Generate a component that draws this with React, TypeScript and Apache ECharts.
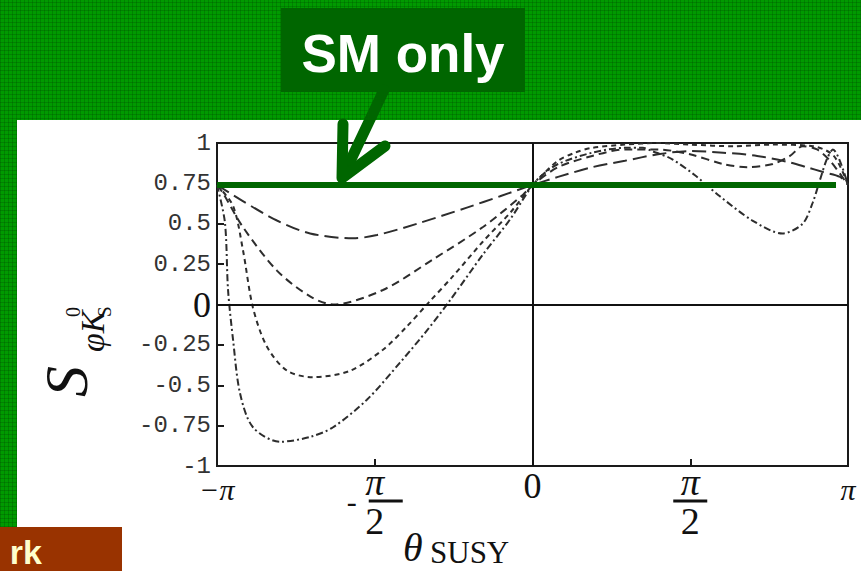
import React, { useEffect, useRef } from 'react';
import * as echarts from 'echarts';

// θ_SUSY is stored in units of π; second value is S(φK⁰_S)
const curveLongDash: [number, number][] = [
  [-1, 0.74], [-0.918, 0.64], [-0.81, 0.52], [-0.705, 0.44], [-0.569, 0.41], [-0.493, 0.43],
  [-0.366, 0.5], [-0.208, 0.6], [-0.103, 0.67], [0, 0.74],
  [0.081, 0.79], [0.189, 0.85], [0.293, 0.89], [0.398, 0.93], [0.499, 0.95], [0.604, 0.94],
  [0.712, 0.92], [0.816, 0.88], [0.87, 0.85], [0.921, 0.82], [0.975, 0.79], [1, 0.74],
];
const curveDash: [number, number][] = [
  [-1, 0.74], [-0.981, 0.69], [-0.918, 0.48], [-0.81, 0.21], [-0.705, 0.05], [-0.632, 0.0],
  [-0.474, 0.09], [-0.315, 0.28], [-0.157, 0.48], [-0.03, 0.68], [0, 0.74],
  [0.081, 0.85], [0.189, 0.92], [0.293, 0.96], [0.398, 0.96], [0.499, 0.93], [0.604, 0.87],
  [0.68, 0.85], [0.762, 0.87], [0.816, 0.92], [0.857, 0.98], [0.902, 0.96], [0.943, 0.89], [1, 0.74],
];
const curveShortDash: [number, number][] = [
  [-1, 0.74], [-0.949, 0.61], [-0.918, 0.34], [-0.886, -0.02], [-0.842, -0.26], [-0.778, -0.41],
  [-0.696, -0.45], [-0.578, -0.41], [-0.474, -0.28], [-0.4, -0.14], [-0.33, 0.01], [-0.25, 0.18],
  [-0.157, 0.39], [-0.07, 0.57], [0, 0.74],
  [0.03, 0.8], [0.081, 0.89], [0.135, 0.94], [0.189, 0.97], [0.293, 0.99], [0.398, 1.0], [0.5, 0.99],
  [0.64, 0.98], [0.76, 0.99], [0.89, 0.98], [0.955, 0.92], [1, 0.74],
];
const curveDashDot: [number, number][] = [
  [-1, 0.74], [-0.975, 0.51], [-0.965, 0.09], [-0.949, -0.22], [-0.927, -0.55], [-0.886, -0.76],
  [-0.8, -0.85], [-0.705, -0.82], [-0.632, -0.76], [-0.525, -0.59], [-0.42, -0.36], [-0.33, -0.15],
  [-0.26, 0.03], [-0.157, 0.31], [-0.07, 0.53], [0, 0.74],
  [0.03, 0.8], [0.081, 0.87], [0.189, 0.94], [0.293, 0.97], [0.35, 0.97], [0.379, 0.95], [0.442, 0.9],
  [0.515, 0.8], [0.594, 0.67], [0.697, 0.52], [0.792, 0.44], [0.856, 0.5], [0.888, 0.63], [0.911, 0.77],
  [0.933, 0.9], [0.952, 0.96], [1, 0.74],
];
// Standard Model expectation
const smLine: [number, number][] = [[-1, 0.74], [0.962, 0.74]];

const yTickLabels = ['-1', '-0.75', '-0.5', '-0.25', '0', '0.25', '0.5', '0.75', '1'];
const xTickLabels = ['−π', '−π/2', '0', 'π/2', 'π'];

const CURVE_COLOR = '#2d2d2d';
const SM_GREEN = '#006600';
const FRAME = '#1a1a1a';

function curve(data: [number, number][], dash: number[]) {
  return {
    type: 'line',
    data,
    symbol: 'none',
    smooth: 0.3,
    silent: true,
    z: 3,
    lineStyle: { color: CURVE_COLOR, width: 2, type: dash },
  };
}

export default function App() {
  const ref = useRef<HTMLDivElement>(null);

  useEffect(() => {
    if (!ref.current) return;
    const chart = echarts.init(ref.current, null, { renderer: 'svg' });
    const serif = '"Liberation Serif", "DejaVu Serif", serif';
    const axisLine = { show: true, onZero: false, lineStyle: { color: FRAME, width: 2 } };
    const axisTick = { show: true, inside: true, length: 7, lineStyle: { color: FRAME, width: 2 } };

    chart.setOption({
      animation: false,
      backgroundColor: 'transparent',
      grid: {
        left: 217, right: 13, top: 143, bottom: 105,
        show: true, borderColor: FRAME, borderWidth: 2, backgroundColor: 'transparent',
      },
      xAxis: {
        type: 'value', min: -1, max: 1, interval: 0.5,
        axisLine,
        splitLine: { show: false },
        axisTick,
        axisLabel: {
          margin: 2,
          color: '#111',
          formatter: (v: number) => {
            const lab = xTickLabels[Math.round(v * 2) + 2];
            if (lab === '0') return '{zero|0}';
            if (lab.endsWith('/2')) {
              const neg = lab.startsWith('−');
              return `{num|π}\n${neg ? '{minus|-}' : ''}{bar| }\n{den|2}`;
            }
            return `{pi|${lab}}`;
          },
          rich: {
            zero: { fontFamily: serif, fontSize: 36, lineHeight: 36, color: '#111' },
            pi: { fontFamily: serif, fontStyle: 'italic', fontSize: 30, lineHeight: 24, padding: [19, 0, 0, 0], color: '#111' },
            num: { fontFamily: serif, fontStyle: 'italic', fontSize: 38, lineHeight: 28, color: '#111' },
            minus: { fontFamily: serif, fontSize: 30, lineHeight: 10, padding: [0, 12, 0, 0], color: '#111' },
            bar: { width: 34, height: 3, lineHeight: 10, backgroundColor: '#111', fontSize: 4 },
            den: { fontFamily: serif, fontSize: 38, lineHeight: 30, color: '#111' },
          },
        },
      },
      yAxis: {
        type: 'value', min: -1, max: 1, interval: 0.25,
        axisLine,
        splitLine: { show: false },
        axisTick,
        axisLabel: {
          margin: 6,
          color: '#333',
          fontFamily: '"Liberation Mono", "DejaVu Sans Mono", monospace',
          fontSize: 24,
          formatter: (v: number) => {
            const lab = yTickLabels[Math.round(v * 4) + 4];
            return lab === '0' ? '{zero|0}' : lab;
          },
          rich: {
            zero: { fontFamily: serif, fontSize: 36, color: '#111' },
          },
        },
      },
      series: [
        {
          ...curve(curveLongDash, [14, 6]),
          markLine: {
            silent: true,
            symbol: ['none', 'none'],
            label: { show: false },
            lineStyle: { color: '#111', width: 2, type: 'solid' },
            data: [{ yAxis: 0 }, { xAxis: 0 }],
          },
        },
        curve(curveDash, [8, 5]),
        curve(curveShortDash, [5, 4]),
        curve(curveDashDot, [7, 3, 2, 3]),
        {
          type: 'line',
          data: smLine,
          symbol: 'none',
          silent: true,
          z: 5,
          lineStyle: { color: SM_GREEN, width: 6, type: 'solid' },
        },
      ],
      graphic: [
        { type: 'rect', z: -100, shape: { x: 17, y: 120, width: 844, height: 451 }, style: { fill: '#ffffff' } },
        { type: 'rect', z: 50, shape: { x: 0, y: 527, width: 122, height: 44 }, style: { fill: '#993300' } },
        {
          type: 'text', z: 51, x: 42, y: 535,
          style: { text: 'rk', font: 'bold 34px "Liberation Sans", Arial, sans-serif', fill: '#ffffcc', align: 'right', verticalAlign: 'top' },
        },
        { type: 'rect', z: 50, shape: { x: 281, y: 8, width: 244, height: 84 }, style: { fill: SM_GREEN } },
        {
          type: 'text', z: 51, x: 403, y: 53,
          style: { text: 'SM only', font: 'bold 53px "Liberation Sans", Arial, sans-serif', fill: '#ffffff', align: 'center', verticalAlign: 'middle' },
        },
        {
          type: 'line', z: 52,
          shape: { x1: 384, y1: 90, x2: 345, y2: 172 },
          style: { stroke: SM_GREEN, lineWidth: 11, lineCap: 'round' },
        },
        {
          type: 'polyline', z: 52,
          shape: { points: [[343, 124], [342, 178], [385, 146]] },
          style: { stroke: SM_GREEN, lineWidth: 11, lineCap: 'round', lineJoin: 'round', fill: 'none' },
        },
        {
          type: 'group', x: 88, y: 397, rotation: Math.PI / 2, z: 40,
          children: [
            { type: 'text', x: 0, y: -22, style: { text: 'S', font: `italic 62px ${serif}`, fill: '#111', align: 'left', verticalAlign: 'middle' } },
            { type: 'text', x: 45, y: 4, style: { text: 'φK', font: `italic 34px ${serif}`, fill: '#111', align: 'left', verticalAlign: 'middle' } },
            { type: 'text', x: 80, y: -15, style: { text: '0', font: `20px ${serif}`, fill: '#111', align: 'left', verticalAlign: 'middle' } },
            { type: 'text', x: 80, y: 16, style: { text: 'S', font: `19px ${serif}`, fill: '#111', align: 'left', verticalAlign: 'middle' } },
          ],
        },
        {
          type: 'text', z: 40, x: 403, y: 547,
          style: { text: 'θ', font: `italic 40px ${serif}`, fill: '#111', align: 'left', verticalAlign: 'middle' },
        },
        {
          type: 'text', z: 40, x: 430, y: 552,
          style: { text: 'SUSY', font: `31px ${serif}`, fill: '#111', align: 'left', verticalAlign: 'middle' },
        },
      ],
    });

    return () => chart.dispose();
  }, []);

  const bg: React.CSSProperties = {
    position: 'fixed',
    left: 0,
    top: 0,
    width: 861,
    height: 571,
    backgroundColor: '#009a00',
    backgroundImage:
      'repeating-linear-gradient(0deg, rgba(0,70,0,0.28) 0px, rgba(0,70,0,0.28) 1px, transparent 1px, transparent 4px),' +
      'repeating-linear-gradient(90deg, rgba(0,70,0,0.28) 0px, rgba(0,70,0,0.28) 1px, transparent 1px, transparent 4px)',
  };

  return (
    <div style={bg}>
      <div ref={ref} style={{ width: 861, height: 571 }} />
    </div>
  );
}
